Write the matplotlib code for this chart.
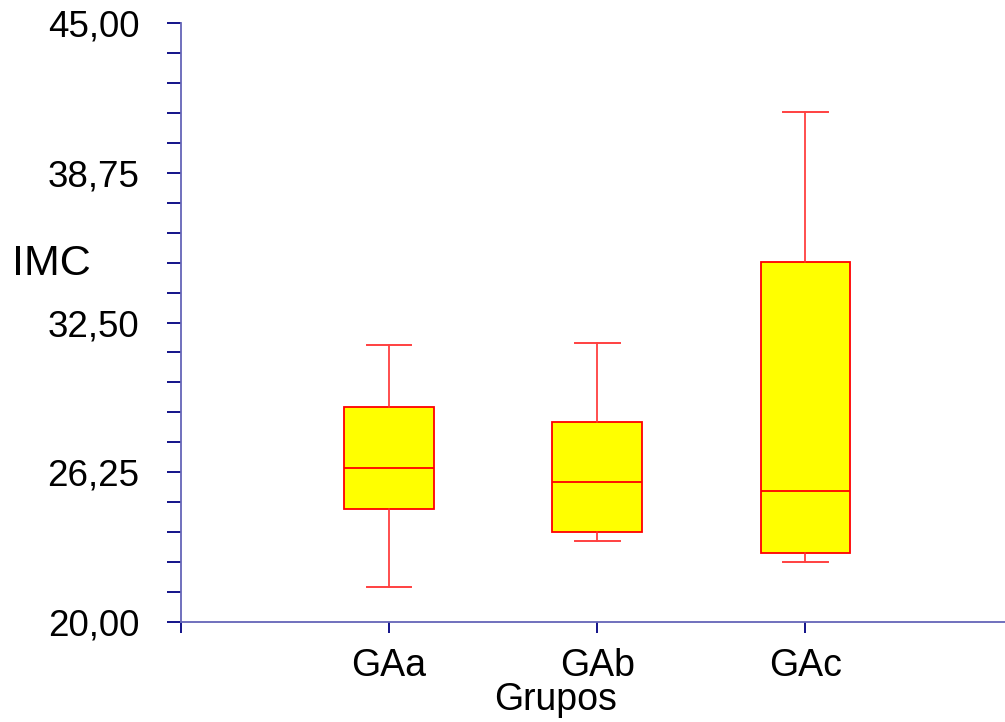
import matplotlib.pyplot as plt
import matplotlib.ticker as plticker

grupos = ['GAa', 'GAb', 'GAc']
whislo = [21.46, 23.38, 22.50]
q1 = [24.72, 23.76, 22.88]
med = [26.43, 25.84, 25.47]
q3 = [28.97, 28.35, 35.03]
whishi = [31.56, 31.64, 41.29]
y_ticks = [20.00, 26.25, 32.50, 38.75, 45.00]

plt.rcParams['font.family'] = ['Liberation Sans', 'DejaVu Sans']

navy = '#000080'
axis_col = '#6464b8'


def box_plot():
    fig = plt.figure(figsize=(10.05, 7.22), dpi=100)
    ax = fig.add_axes([0.1801, 0.1385, 0.8199, 0.8296])

    stats = []
    for i in range(len(grupos)):
        stats.append({'label': grupos[i], 'whislo': whislo[i], 'q1': q1[i],
                      'med': med[i], 'q3': q3[i], 'whishi': whishi[i]})
    ax.bxp(stats, positions=[1, 2, 3], widths=0.43, capwidths=0.215,
           showfliers=False, patch_artist=True,
           boxprops=dict(facecolor='#ffff00', edgecolor='#ff0000', linewidth=1.3),
           medianprops=dict(color='#ff0000', linewidth=1.3),
           whiskerprops=dict(color='#ff3030', linewidth=1.2),
           capprops=dict(color='#ff4040', linewidth=1.4))

    ax.set_xlim(0, 3.96)
    ax.set_ylim(20, 45)

    ax.set_xticks([0, 1, 2, 3])
    ax.set_xticklabels([''] + grupos, fontsize=27)
    ax.set_yticks(y_ticks)
    ax.set_yticklabels([('%.2f' % v).replace('.', ',') for v in y_ticks], fontsize=26.5)
    ax.yaxis.set_minor_locator(plticker.MultipleLocator(1.25))

    ax.tick_params(axis='y', which='both', direction='out', length=10, width=1.3,
                   color=navy, pad=20)
    ax.tick_params(axis='x', which='major', direction='out', length=8, width=1.3,
                   color=navy, pad=11)

    for side in ['top', 'right']:
        ax.spines[side].set_visible(False)
    for side in ['left', 'bottom']:
        ax.spines[side].set_color(axis_col)
        ax.spines[side].set_linewidth(1.3)

    fig.text(0.553, 0.030, 'Grupos', fontsize=27, ha='center', va='center')
    fig.text(0.051, 0.635, 'IMC', fontsize=31, ha='center', va='center')

    fig.savefig('out.png', dpi=100)


def main():
    box_plot()


if __name__ == '__main__':
    main()
